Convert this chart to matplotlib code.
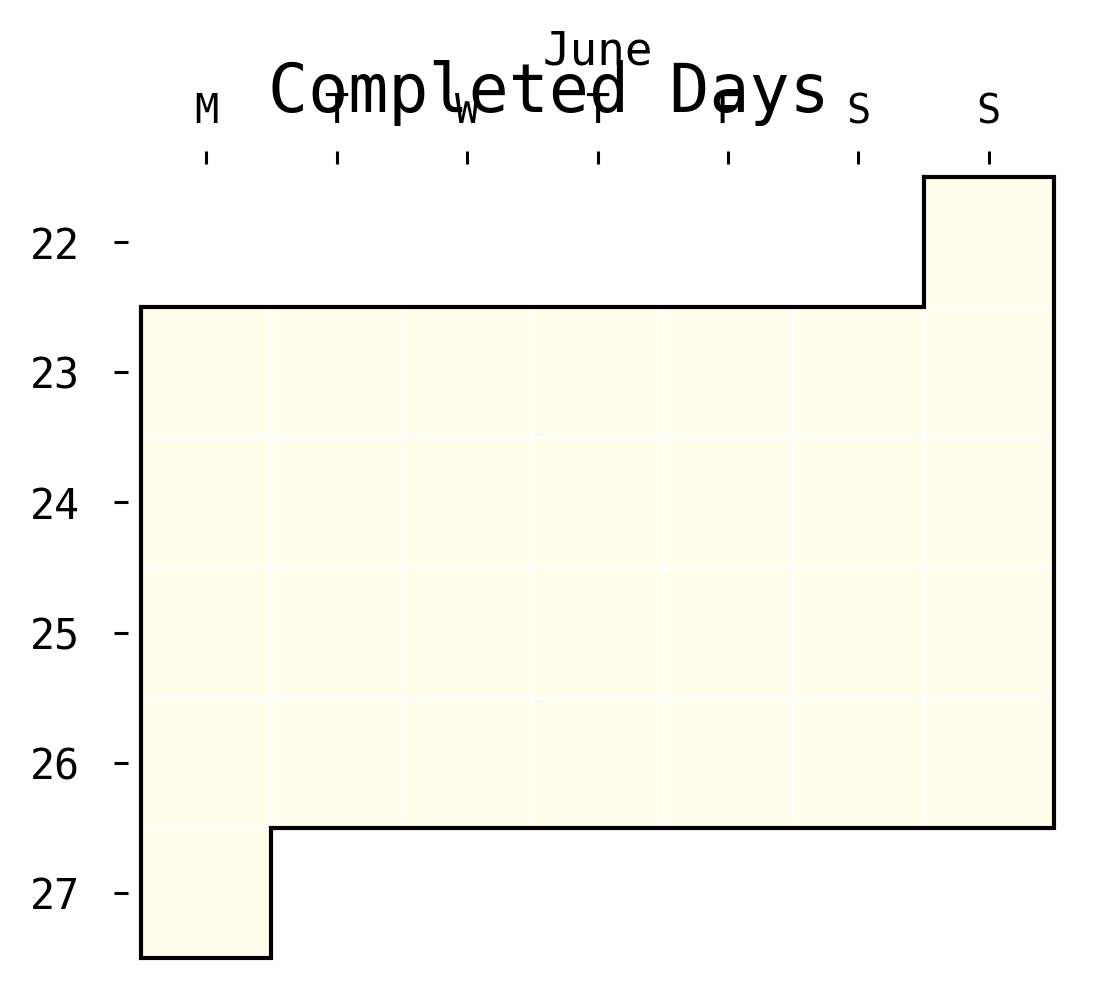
import datetime as dt
import numpy as np
import matplotlib
matplotlib.use("Agg")
import matplotlib.pyplot as plt

# ---- data ----
year = 2025
month = 6
month_name = "June"
days = list(range(1, 31))
completed = [1] * 30
weekday_labels = ["M", "T", "W", "T", "F", "S", "S"]
title = "Completed Days"
cell_color = "#fefeea"

plt.rcParams['font.family'] = ['DejaVu Sans Mono']

dates = [dt.date(year, month, d) for d in days]
weeks = [d.isocalendar()[1] for d in dates]
wdays = [d.weekday() for d in dates]
week_list = sorted(set(weeks))
nrows = len(week_list)

grid = np.full((nrows, 7), np.nan)
for w, wd, v in zip(weeks, wdays, completed):
    grid[week_list.index(w), wd] = v

W, H = 1097, 1002
fig = plt.figure(figsize=(W / 100, H / 100), dpi=100)
ax = fig.add_axes([128 / W, 1 - 971 / H, (1067 - 128) / W, (971 - 164) / H])

cmap = matplotlib.colors.ListedColormap([cell_color])
ax.pcolormesh(np.arange(8), np.arange(nrows + 1), np.ma.masked_invalid(grid),
              cmap=cmap, edgecolors="white", linewidth=1.8, zorder=1)

# outline of existing cells, built as a closed path from boundary edges
present = ~np.isnan(grid)
def has(r, c):
    return 0 <= r < nrows and 0 <= c < 7 and present[r, c]
edges = []
for r in range(nrows):
    for c in range(7):
        if not present[r, c]:
            continue
        if not has(r - 1, c):
            edges.append(((c, r), (c + 1, r)))
        if not has(r, c + 1):
            edges.append(((c + 1, r), (c + 1, r + 1)))
        if not has(r + 1, c):
            edges.append(((c + 1, r + 1), (c, r + 1)))
        if not has(r, c - 1):
            edges.append(((c, r + 1), (c, r)))
nxt = {a: b for a, b in edges}
start = edges[0][0]
pts = [start]
cur = nxt[start]
while cur != start:
    pts.append(cur)
    cur = nxt[cur]
pts.append(start)
px = [p[0] for p in pts]
py = [p[1] for p in pts]
ax.plot(px, py, color="black", lw=3.0, solid_joinstyle="miter", zorder=3)

ax.set_xlim(-0.1, 7.1)
ax.set_ylim(nrows + 0.1, -0.1)
for s in ax.spines.values():
    s.set_visible(False)

ax.set_xticks(np.arange(7) + 0.5)
ax.set_xticklabels(weekday_labels)
ax.set_yticks(np.arange(nrows) + 0.5)
ax.set_yticklabels([str(w) for w in week_list])
ax.tick_params(axis="x", top=True, bottom=False, labeltop=True, labelbottom=False,
               length=9.5, width=2.2, pad=13.5, labelsize=29)
ax.tick_params(axis="y", length=10, width=2.2, pad=25, labelsize=30)
ax.xaxis.set_label_position("top")
ax.set_xlabel(month_name, fontsize=33, labelpad=20)

fig.suptitle(title, fontsize=48, y=1 - 112 / H, va="baseline")

fig.savefig("out.png", dpi=100)
